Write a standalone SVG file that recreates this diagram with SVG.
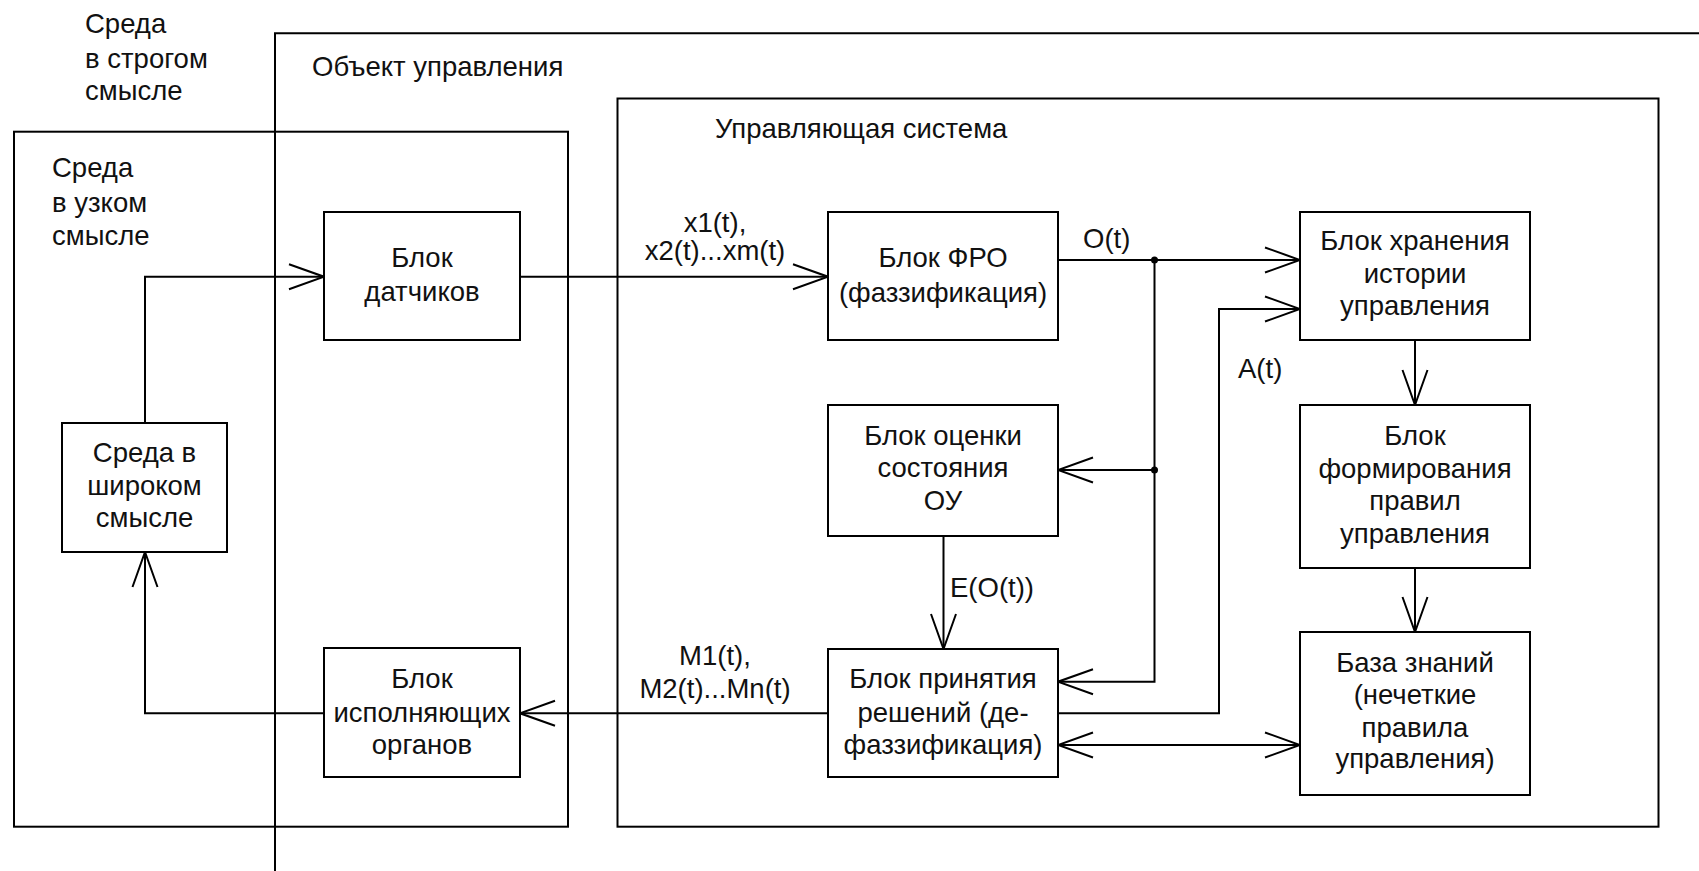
<svg xmlns="http://www.w3.org/2000/svg" width="1699" height="871" viewBox="0 0 1699 871">
<defs>
<style>
.frame{fill:none;stroke:#000;stroke-width:2}
.box{fill:#fff;stroke:#000;stroke-width:2}
.wire{fill:none;stroke:#000;stroke-width:2}
text{font-family:"Liberation Sans",Arial,sans-serif;font-size:27.5px;fill:#111}
.c{text-anchor:middle}
.dot{fill:#000}
</style>
<marker id="arr" markerUnits="userSpaceOnUse" viewBox="-38 -15 40 30" markerWidth="40" markerHeight="30" refX="0" refY="0" orient="auto-start-reverse">
<path d="M-35,-12.5 L0,0 L-35,12.5" fill="none" stroke="#000" stroke-width="2"/>
</marker>
</defs>
<rect width="1699" height="871" fill="#fff"/>

<g id="env-strict">
<text x="85" y="32.7">Среда</text>
<text x="85" y="68">в строгом</text>
<text x="85" y="100">смысле</text>
</g>

<g id="control-object">
<path class="frame" d="M275,871 V33.3 H1699"/>
<text x="312" y="76">Объект управления</text>
</g>

<g id="env-narrow">
<rect class="frame" x="14" y="131.7" width="554" height="695"/>
<text x="52" y="177">Среда</text>
<text x="52" y="212">в узком</text>
<text x="52" y="245">смысле</text>
</g>

<g id="control-system">
<rect class="frame" x="617.5" y="98.5" width="1041" height="728.2"/>
<text x="715" y="138">Управляющая система</text>
</g>

<g id="connectors">
<path class="wire" d="M145,423 V276.7 H324" marker-end="url(#arr)"/>
<path class="wire" d="M520,276.7 H828" marker-end="url(#arr)"/>
<path class="wire" d="M1058,260 H1300" marker-end="url(#arr)"/>
<path class="wire" d="M1154.5,260 V681.7 H1058" marker-end="url(#arr)"/>
<path class="wire" d="M1154.5,470 H1058" marker-end="url(#arr)"/>
<path class="wire" d="M1058,713.3 H1219 V309 H1300" marker-end="url(#arr)"/>
<path class="wire" d="M943.5,536 V649" marker-end="url(#arr)"/>
<path class="wire" d="M1415,340 V405" marker-end="url(#arr)"/>
<path class="wire" d="M1415,568 V632" marker-end="url(#arr)"/>
<path class="wire" d="M1058,745 H1300" marker-start="url(#arr)" marker-end="url(#arr)"/>
<path class="wire" d="M828,713.3 H520" marker-end="url(#arr)"/>
<path class="wire" d="M324,713.3 H145 V552" marker-end="url(#arr)"/>
<circle class="dot" cx="1154.5" cy="260" r="3.5"/>
<circle class="dot" cx="1154.5" cy="470" r="3.5"/>
<text class="c" x="715" y="232">x1(t),</text>
<text class="c" x="715" y="260">x2(t)...xm(t)</text>
<text x="1083" y="248">O(t)</text>
<text x="1238" y="378">A(t)</text>
<text x="950" y="597">E(O(t))</text>
<text class="c" x="715" y="665">M1(t),</text>
<text class="c" x="715" y="698">M2(t)...Mn(t)</text>
</g>

<g id="sensors">
<rect class="box" x="324" y="212" width="196" height="128"/>
<text class="c" x="422" y="267">Блок</text>
<text class="c" x="422" y="301">датчиков</text>
</g>

<g id="fuzzification">
<rect class="box" x="828" y="212" width="230" height="128"/>
<text class="c" x="943" y="267">Блок ФРО</text>
<text class="c" x="943" y="301.5">(фаззификация)</text>
</g>

<g id="history">
<rect class="box" x="1300" y="212" width="230" height="128"/>
<text class="c" x="1415" y="250">Блок хранения</text>
<text class="c" x="1415" y="283">истории</text>
<text class="c" x="1415" y="315">управления</text>
</g>

<g id="state-eval">
<rect class="box" x="828" y="405" width="230" height="131"/>
<text class="c" x="943" y="445">Блок оценки</text>
<text class="c" x="943" y="477">состояния</text>
<text class="c" x="943" y="510">ОУ</text>
</g>

<g id="rules-gen">
<rect class="box" x="1300" y="405" width="230" height="163"/>
<text class="c" x="1415" y="445">Блок</text>
<text class="c" x="1415" y="478">формирования</text>
<text class="c" x="1415" y="510">правил</text>
<text class="c" x="1415" y="543">управления</text>
</g>

<g id="decision">
<rect class="box" x="828" y="649" width="230" height="128"/>
<text class="c" x="943" y="688">Блок принятия</text>
<text class="c" x="943" y="721.5">решений (де-</text>
<text class="c" x="943" y="753.5">фаззификация)</text>
</g>

<g id="knowledge-base">
<rect class="box" x="1300" y="632" width="230" height="163"/>
<text class="c" x="1415" y="672">База знаний</text>
<text class="c" x="1415" y="704">(нечеткие</text>
<text class="c" x="1415" y="736.5">правила</text>
<text class="c" x="1415" y="768">управления)</text>
</g>

<g id="env-wide">
<rect class="box" x="62" y="423" width="165" height="129"/>
<text class="c" x="144.5" y="462">Среда в</text>
<text class="c" x="144.5" y="495">широком</text>
<text class="c" x="144.5" y="527">смысле</text>
</g>

<g id="actuators">
<rect class="box" x="324" y="648" width="196" height="129"/>
<text class="c" x="422" y="688">Блок</text>
<text class="c" x="422" y="721.5">исполняющих</text>
<text class="c" x="422" y="753.5">органов</text>
</g>
</svg>
